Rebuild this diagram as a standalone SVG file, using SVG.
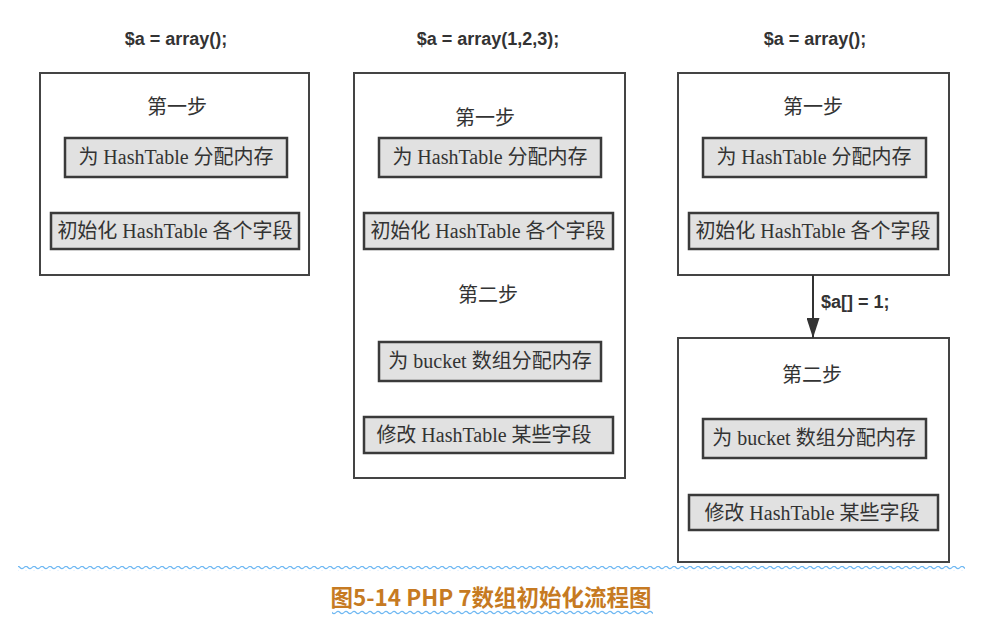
<svg xmlns="http://www.w3.org/2000/svg" width="1008" height="629" viewBox="0 0 1008 629">
<style>
.outer{fill:#fff;stroke:#444;stroke-width:2}
.inner{fill:#e1e1e1;stroke:#3a3a3a;stroke-width:2.5}
.t{font-family:"Liberation Serif","Noto Sans CJK SC",serif;font-size:20px;fill:#333;text-anchor:middle}
.h{font-family:"Liberation Sans","Noto Sans CJK SC",sans-serif;font-size:18px;font-weight:bold;fill:#333;text-anchor:middle}
.cap{font-family:"Noto Sans CJK SC",sans-serif;font-size:22.5px;font-weight:bold;fill:#c67a22;text-anchor:middle}
</style>
<defs>
<pattern id="wave" width="8" height="5" patternUnits="userSpaceOnUse">
<path d="M0 2.5 Q2 0.3 4 2.5 T8 2.5" fill="none" stroke="#6fb8f2" stroke-width="1.2"/>
</pattern>
<marker id="arr" markerWidth="20" markerHeight="13" refX="20" refY="6.5" orient="auto" markerUnits="userSpaceOnUse" viewBox="0 0 20 13">
<path d="M0 0 L20 6.5 L0 13 Z" fill="#333"/>
</marker>
</defs>
<rect width="1008" height="629" fill="#fff"/>

<g id="col1">
<text class="h" x="176" y="45">$a = array();</text>
<rect class="outer" x="40" y="73" width="269" height="202"/>
<text class="t" x="177" y="114">第一步</text>
<rect class="inner" x="65" y="138" width="222" height="39"/>
<text class="t" x="176" y="164">为 HashTable 分配内存</text>
<rect class="inner" x="51" y="213" width="248" height="36"/>
<text class="t" x="175" y="238">初始化 HashTable 各个字段</text>
</g>

<g id="col2">
<text class="h" x="488" y="45">$a = array(1,2,3);</text>
<rect class="outer" x="354" y="73" width="271" height="405"/>
<text class="t" x="485" y="125">第一步</text>
<rect class="inner" x="379" y="138" width="222" height="39"/>
<text class="t" x="490" y="164">为 HashTable 分配内存</text>
<rect class="inner" x="364" y="213" width="249" height="36"/>
<text class="t" x="488" y="238">初始化 HashTable 各个字段</text>
<text class="t" x="488" y="302">第二步</text>
<rect class="inner" x="379" y="342" width="222" height="39"/>
<text class="t" x="490" y="368">为 bucket 数组分配内存</text>
<rect class="inner" x="364" y="417" width="249" height="36"/>
<text class="t" x="484" y="442">修改 HashTable 某些字段</text>
</g>

<g id="col3a">
<text class="h" x="815" y="45">$a = array();</text>
<rect class="outer" x="678" y="73" width="271" height="202"/>
<text class="t" x="813" y="114">第一步</text>
<rect class="inner" x="703" y="138" width="223" height="39"/>
<text class="t" x="814" y="164">为 HashTable 分配内存</text>
<rect class="inner" x="689" y="213" width="249" height="36"/>
<text class="t" x="813" y="238">初始化 HashTable 各个字段</text>
</g>

<g id="col3b">
<rect class="outer" x="678" y="338" width="271" height="224"/>
<text class="t" x="812" y="382">第二步</text>
<rect class="inner" x="703" y="419" width="223" height="39"/>
<text class="t" x="814" y="445">为 bucket 数组分配内存</text>
<rect class="inner" x="689" y="495" width="249" height="35"/>
<text class="t" x="812" y="520">修改 HashTable 某些字段</text>
</g>

<g id="connectors">
<line x1="813" y1="275" x2="813" y2="338" stroke="#333" stroke-width="2" marker-end="url(#arr)"/>
<text class="h" x="821" y="308" style="text-anchor:start">$a[] = 1;</text>
</g>

<g id="caption">
<rect x="18" y="566" width="947" height="5" fill="url(#wave)"/>
<text class="cap" x="491" y="606">图5-14 PHP 7数组初始化流程图</text>
<rect x="332" y="610" width="321" height="5" fill="url(#wave)"/>
</g>
</svg>
